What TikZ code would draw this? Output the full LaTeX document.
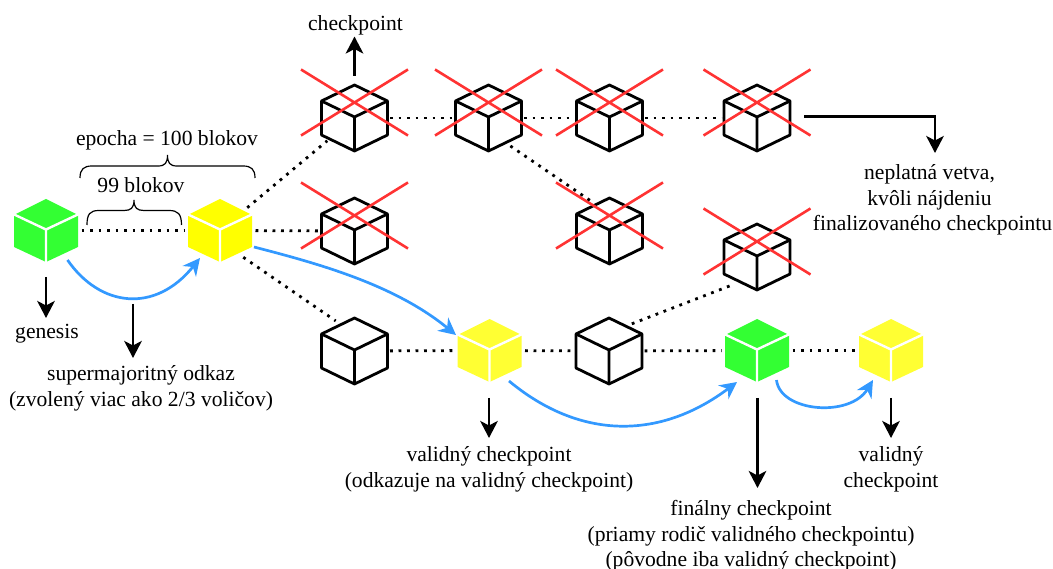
\documentclass[tikz,border=0pt]{standalone}
\usepackage{fontspec}
\setmainfont{Liberation Serif}
\usetikzlibrary{arrows.meta}
\definecolor{cgreen}{HTML}{33FF33}
\definecolor{cyel}{HTML}{FFFF00}
\definecolor{cyelb}{HTML}{FFFF33}
\definecolor{cred}{HTML}{FF3333}
\definecolor{cblue}{HTML}{3399FF}
\tikzset{
  x=1pt,y=-1pt,
  block/.style={circle,minimum size=71pt,inner sep=0pt,outer sep=0pt},
  chain/.style={line width=2.8pt,dash pattern=on 2.8pt off 5.7pt},
  note/.style={line width=2.9pt,-{Stealth[length=17pt,width=17.5pt,inset=4.5pt]}},
  vote/.style={line width=2.7pt,cblue,-{Stealth[length=17pt,width=17pt,inset=5.5pt]}},
  veto/.style={cred,line width=2.6pt},
  bracket/.style={line width=1.2pt},
  label/.style={anchor=base,inner sep=0pt,font=\fontsize{21.6}{26}\selectfont},
}
\newcommand{\solidcube}[2]{\begin{scope}[shift={(#1.center)}]
  \fill[#2] (0,-31.5)--(32,-15.5)--(32,16.5)--(0,31.5)--(-32,16.5)--(-32,-15.5)--cycle;
  \draw[white,line width=2.4pt] (-34,-17)--(0,-1)--(34,-17) (0,-1)--(0,33);
\end{scope}}
\newcommand{\opencube}[1]{\begin{scope}[shift={(#1.center)}]
  \draw[black,fill=white,line width=2.8pt,line join=round] (0,-33)--(33,-17)--(33,17)--(0,33)--(-33,17)--(-33,-17)--cycle;
  \draw[black,line width=2.8pt,line join=round] (-33,-17)--(0,-1)--(33,-17) (0,-1)--(0,33);
\end{scope}}
\newcommand{\crossout}[1]{\begin{scope}[shift={(#1.center)}]
  \draw[veto] (-53.5,-48.5)--(53.5,17.5) (-53.5,17.5)--(53.5,-48.5);
\end{scope}}
\begin{document}
\begin{tikzpicture}
\useasboundingbox (0,0) rectangle (1053,569);
% nodes
\node[block] (g0) at (46,230.5) {};
\node[block] (y0) at (220,230.5) {};
\node[block] (a1) at (354.5,118) {};
\node[block] (a2) at (488.5,118) {};
\node[block] (a3) at (609.5,118) {};
\node[block] (a4) at (757,118) {};
\node[block] (b1) at (354.5,231) {};
\node[block] (b3) at (609.5,231) {};
\node[block] (b4) at (757,257) {};
\node[block] (c1) at (354.5,351) {};
\node[block] (c2) at (489.5,350.5) {};
\node[block] (c3) at (609,351) {};
\node[block] (c4) at (757,350.5) {};
\node[block] (c5) at (891,350.5) {};
\coordinate (n0) at (804,116.5);
\coordinate (n1) at (935,116.5);
\coordinate (n2) at (935,153);
% chains
\foreach \p/\q in {g0/y0,y0/a1,y0/b1,a1/a2,a2/a3,a3/a4,c1/c2,c2/c3,c3/c4,c4/c5}
  \draw[chain] (\p) -- (\q);
\draw[chain] (y0.-49) -- (c1.122);
\draw[chain] (c3.50) -- (b4.230);
% cubes
\solidcube{g0}{cgreen}
\solidcube{y0}{cyel}
\foreach \n in {a1,a2,a3,a4,b1,b3,b4,c1,c3} {\opencube{\n}}
\solidcube{c2}{cyelb}
\solidcube{c4}{cgreen}
\solidcube{c5}{cyelb}
\foreach \n in {a1,a2,a3,a4,b1,b3,b4} {\crossout{\n}}
\draw[chain] (a2.-52) -- (b3.122);
% votes
\coordinate (v1s) at (67.5,260); \coordinate (v1e) at (200,258);
\coordinate (v2s) at (254,247); \coordinate (v2e) at (456,335);
\coordinate (v3s) at (509,381); \coordinate (v3e) at (737,382);
\coordinate (v4s) at (776.5,380); \coordinate (v4e) at (873,380);
\draw[vote] (v1s) .. controls (100,307) and (155,314) .. (v1e);
\draw[vote] (v2s) .. controls (320,264) and (395,285) .. (v2e);
\draw[vote] (v3s) .. controls (580,440) and (660,440) .. (v3e);
\draw[vote] (v4s) .. controls (780,412) and (850,418) .. (v4e);
% labels
\node[label] (tcheck) at (355.5,31) {checkpoint};
\node[label] (tgen) at (47,339) {genesis};
\node[label] (tsm) at (141,381) {supermajoritný odkaz};
\node[label] at (141,406.5) {(zvolený viac ako 2/3 voličov)};
\node[label] (tv) at (489,461) {validný checkpoint};
\node[label] at (489,487) {(odkazuje na validný checkpoint)};
\node[label] (tf) at (751,515) {finálny checkpoint};
\node[label] at (751,541) {(priamy rodič validného checkpointu)};
\node[label] at (751,566) {(pôvodne iba validný checkpoint)};
\node[label] (tv2) at (891,461) {validný};
\node[label] at (891,487) {checkpoint};
\node[label] at (929.5,180) {neplatná vetva,};
\node[label] at (929.5,205.5) {kvôli nájdeniu};
\node[label] at (932.5,231) {finalizovaného checkpointu};
\node[label] at (167,146) {epocha = 100 blokov};
\node[label] at (141,193) {99 blokov};
% note arrows
\coordinate (e1) at (354.5,76); \coordinate (e2) at (354.5,36.5);
\draw[note] (e1) -- (e2);
\coordinate (e3) at (46,277); \coordinate (e4) at (46,318);
\draw[note] (e3) -- (e4);
\coordinate (e5) at (133,304); \coordinate (e6) at (133,358);
\draw[note] (e5) -- (e6);
\coordinate (e7) at (489,398); \coordinate (e8) at (489,438);
\draw[note] (e7) -- (e8);
\coordinate (e9) at (757.5,398); \coordinate (e10) at (757.5,488);
\draw[note] (e9) -- (e10);
\coordinate (e11) at (891,398); \coordinate (e12) at (891,438);
\draw[note] (e11) -- (e12);
\draw[note] (n0) -- (n1) -- (n2);
% braces
\draw[bracket] (80,178) .. controls (80,169) and (84,166) .. (92,166) -- (158,166) .. controls (165,166) and (167.5,163) .. (167.5,155) .. controls (167.5,163) and (170,166) .. (177,166) -- (243,166) .. controls (251,166) and (255,169) .. (255,178);
\draw[bracket] (87,225) .. controls (87,214) and (90,210.5) .. (99,210.5) -- (124,210.5) .. controls (131,210.5) and (134,208) .. (134,200) .. controls (134,208) and (137,210.5) .. (144,210.5) -- (169,210.5) .. controls (178,210.5) and (181.5,214) .. (181.5,225);
\end{tikzpicture}
\end{document}
